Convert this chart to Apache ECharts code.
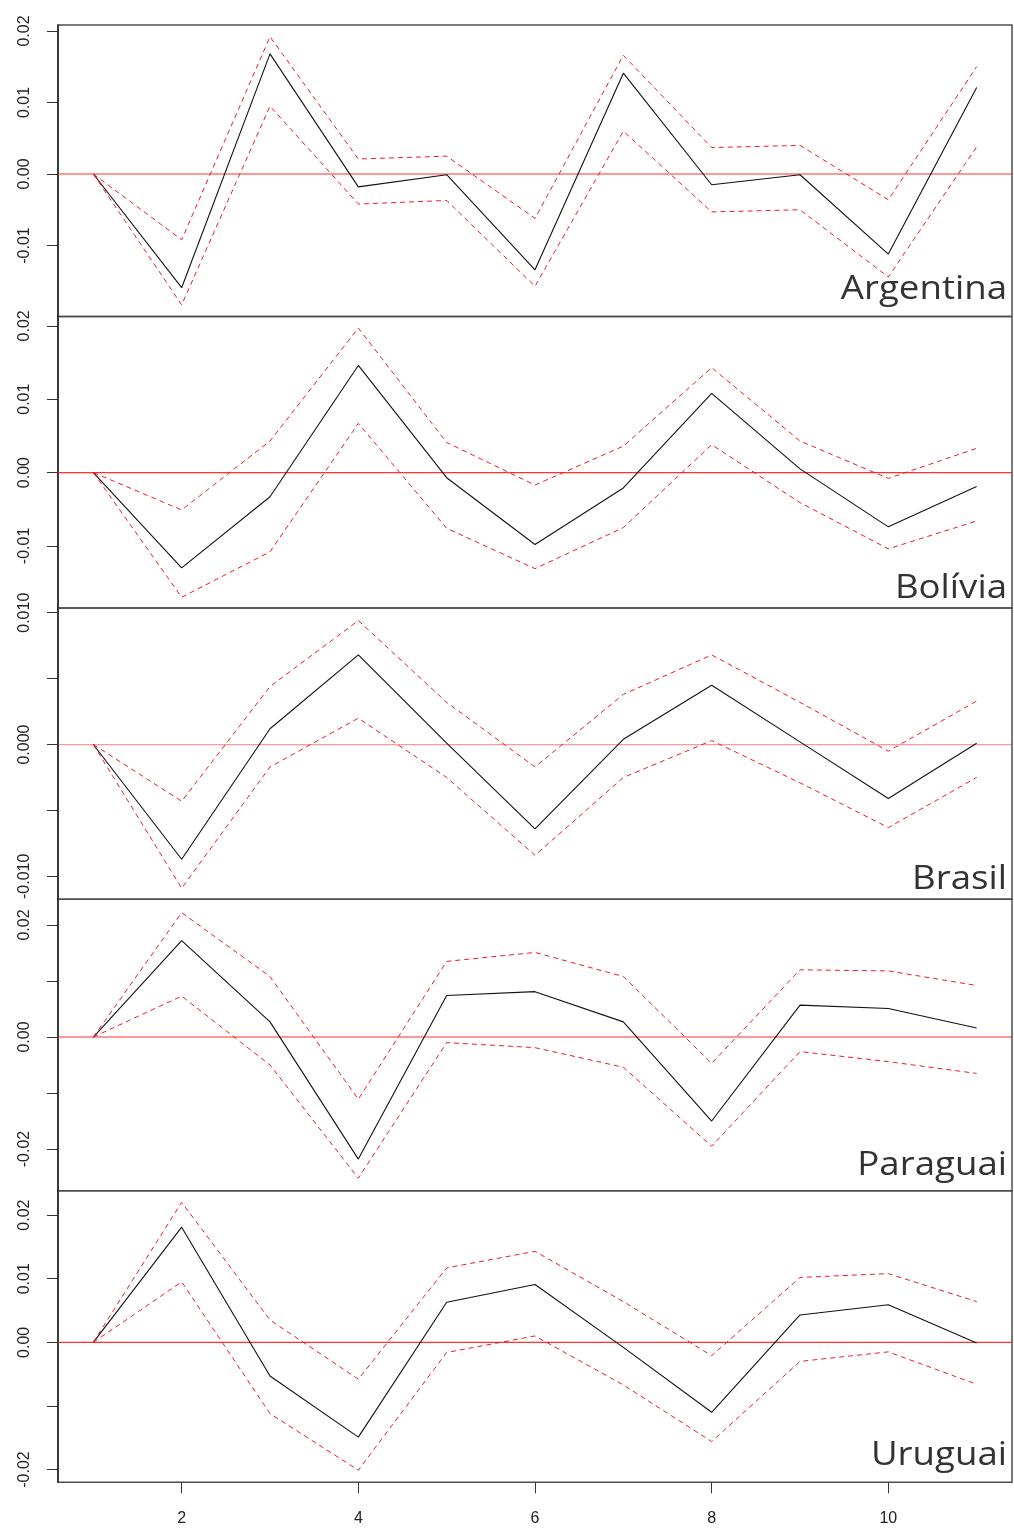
<!DOCTYPE html>
<html>
<head>
<meta charset="utf-8">
<script src="https://cdn.jsdelivr.net/npm/echarts@6/dist/echarts.min.js"></script>
<style>
  html, body { margin: 0; padding: 0; background: #ffffff; }
  #chart { width: 1014px; height: 1529px; }
</style>
</head>
<body>
<div id="chart"></div>
<script>
// Impulse responses over 11 periods, with lower / upper confidence bands
const periods = [1, 2, 3, 4, 5, 6, 7, 8, 9, 10, 11];
const countries = ['Argentina', 'Bolívia', 'Brasil', 'Paraguai', 'Uruguai'];

const irfArgentina   = [0, -0.0159, 0.0168, -0.0018, -0.0001, -0.0134, 0.0141, -0.0015, -0.0001, -0.0112, 0.0121];
const upperArgentina = [0, -0.0092, 0.0192, 0.0021, 0.0025, -0.0062, 0.0166, 0.0037, 0.0040, -0.0036, 0.0150];
const lowerArgentina = [0, -0.0183, 0.0095, -0.0042, -0.0037, -0.0157, 0.0060, -0.0053, -0.0050, -0.0144, 0.0038];

const irfBolivia   = [0, -0.0130, -0.0033, 0.0146, -0.0007, -0.0098, -0.0021, 0.0108, 0.0005, -0.0074, -0.0019];
const upperBolivia = [0, -0.0051, 0.0043, 0.0197, 0.0041, -0.0017, 0.0036, 0.0143, 0.0043, -0.0008, 0.0033];
const lowerBolivia = [0, -0.0170, -0.0108, 0.0067, -0.0076, -0.0131, -0.0075, 0.0038, -0.0041, -0.0104, -0.0066];

const irfBrasil   = [0, -0.0087, 0.0012, 0.0068, 0.0001, -0.0064, 0.0004, 0.0045, 0.0002, -0.0041, 0.0001];
const upperBrasil = [0, -0.0043, 0.0044, 0.0094, 0.0032, -0.0017, 0.0038, 0.0068, 0.0032, -0.0005, 0.0033];
const lowerBrasil = [0, -0.0109, -0.0017, 0.0020, -0.0025, -0.0084, -0.0025, 0.0003, -0.0029, -0.0063, -0.0025];

const irfParaguai   = [0, 0.0172, 0.0027, -0.0218, 0.0074, 0.0081, 0.0027, -0.0150, 0.0057, 0.0051, 0.0016];
const upperParaguai = [0, 0.0222, 0.0108, -0.0111, 0.0135, 0.0151, 0.0108, -0.0047, 0.0120, 0.0118, 0.0092];
const lowerParaguai = [0, 0.0073, -0.0050, -0.0252, -0.0010, -0.0019, -0.0054, -0.0195, -0.0026, -0.0044, -0.0065];

const irfUruguai   = [0, 0.0181, -0.0053, -0.0149, 0.0063, 0.0091, -0.0008, -0.0110, 0.0043, 0.0059, -0.0001];
const upperUruguai = [0, 0.0220, 0.0035, -0.0058, 0.0117, 0.0143, 0.0064, -0.0021, 0.0102, 0.0108, 0.0064];
const lowerUruguai = [0, 0.0095, -0.0112, -0.0201, -0.0016, 0.0010, -0.0067, -0.0156, -0.0030, -0.0015, -0.0066];

// Axis ticks and their printed labels
const xTickValues = [2, 4, 6, 8, 10];
const xTickLabels = ['2', '4', '6', '8', '10'];

const yTickValues = [
  [-0.01, 0, 0.01, 0.02],
  [-0.01, 0, 0.01, 0.02],
  [-0.01, -0.005, 0, 0.005, 0.01],
  [-0.02, -0.01, 0, 0.01, 0.02],
  [-0.02, -0.01, 0, 0.01, 0.02]
];
const yLabelValues = [
  [-0.01, 0, 0.01, 0.02],
  [-0.01, 0, 0.01, 0.02],
  [-0.01, 0, 0.01],
  [-0.02, 0, 0.02],
  [-0.02, 0, 0.01, 0.02]
];
const yLabelTexts = [
  ['-0.01', '0.00', '0.01', '0.02'],
  ['-0.01', '0.00', '0.01', '0.02'],
  ['-0.010', '0.000', '0.010'],
  ['-0.02', '0.00', '0.02'],
  ['-0.02', '0.00', '0.01', '0.02']
];

// Plotted value range of each panel's vertical axis
const yMin = [-0.01992, -0.01845, -0.011744, -0.02746, -0.02200];
const yMax = [0.02084, 0.02128, 0.010365, 0.02458, 0.02382];

const xMin = 0.6, xMax = 11.4;

const irf   = [irfArgentina, irfBolivia, irfBrasil, irfParaguai, irfUruguai];
const upper = [upperArgentina, upperBolivia, upperBrasil, upperParaguai, upperUruguai];
const lower = [lowerArgentina, lowerBolivia, lowerBrasil, lowerParaguai, lowerUruguai];

// ---- layout ----
const PANEL_TOP = 25;
const PANEL_H = 291.45;
const PLOT_LEFT = 58;
const PLOT_RIGHT = 2;
const nameBaselineGap = [17.5, 10, 10, 16, 17];

const axisFont = 'Liberation Sans, Arial, sans-serif';
const nameFont = '"Open Sans", "Noto Sans", sans-serif';

function toPairs(ys) { return periods.map((p, i) => [p, ys[i]]); }

const grids = [], xAxes = [], yAxes = [], series = [], graphics = [];

countries.forEach((name, i) => {
  const top = PANEL_TOP + i * PANEL_H;
  const isLast = i === countries.length - 1;
  grids.push({
    left: PLOT_LEFT, right: PLOT_RIGHT, top: top, height: PANEL_H,
    show: true, borderColor: '#4d4d4d', borderWidth: 1.5, backgroundColor: 'transparent'
  });
  xAxes.push({
    gridIndex: i, type: 'value', min: xMin, max: xMax,
    show: isLast, position: 'bottom',
    splitLine: { show: false },
    axisLine: { show: false, onZero: false },
    axisTick: { show: true, length: 11, customValues: xTickValues, lineStyle: { color: '#333', width: 1 } },
    axisLabel: {
      show: true, customValues: xTickValues, margin: 28,
      fontFamily: axisFont, fontSize: 16, color: '#222',
      formatter: v => xTickLabels[xTickValues.indexOf(v)]
    }
  });
  const lv = yLabelValues[i], lt = yLabelTexts[i];
  yAxes.push({
    gridIndex: i, type: 'value', min: yMin[i], max: yMax[i], position: 'left',
    splitLine: { show: false },
    axisLine: { show: true, onZero: false, lineStyle: { color: '#262626', width: 1.5 } },
    axisTick: { show: true, length: 11, customValues: yTickValues[i], lineStyle: { color: '#333', width: 1 } },
    axisLabel: {
      show: true, customValues: lv, rotate: 90, align: 'center', verticalAlign: 'bottom',
      margin: 25, fontFamily: axisFont, fontSize: 16, color: '#262626',
      formatter: v => {
        for (let k = 0; k < lv.length; k++) if (Math.abs(lv[k] - v) < 1e-9) return lt[k];
        return '';
      }
    }
  });

  // horizontal reference line at zero across the whole panel
  series.push({
    type: 'line', xAxisIndex: i, yAxisIndex: i, data: [[xMin, 0], [xMax, 0]],
    symbol: 'none', silent: true, z: 2,
    lineStyle: { color: '#ff1a1a', width: 1.2, opacity: i === 2 ? 0.45 : 0.9 }
  });
  // central response
  series.push({
    type: 'line', xAxisIndex: i, yAxisIndex: i, data: toPairs(irf[i]),
    symbol: 'none', silent: true, z: 3,
    lineStyle: { color: '#111', width: 1.1 }
  });
  // confidence bands
  [upper[i], lower[i]].forEach(band => {
    series.push({
      type: 'line', xAxisIndex: i, yAxisIndex: i, data: toPairs(band),
      symbol: 'none', silent: true, z: 4,
      lineStyle: { color: '#ee1c24', width: 1, type: [5, 4] }
    });
  });

  // country name, bottom-right of the panel
  graphics.push({
    type: 'text', x: 1007, y: top + PANEL_H - nameBaselineGap[i] + 7, z: 100,
    scaleX: 1.11,
    style: {
      text: name, font: '33px ' + nameFont, fill: '#333333',
      textAlign: 'right', textVerticalAlign: 'bottom', align: 'right', verticalAlign: 'bottom'
    }
  });
});

const chart = echarts.init(document.getElementById('chart'), null, { renderer: 'canvas' });
chart.setOption({
  animation: false,
  backgroundColor: '#ffffff',
  grid: grids,
  xAxis: xAxes,
  yAxis: yAxes,
  series: series,
  graphic: graphics
});
</script>
</body>
</html>
